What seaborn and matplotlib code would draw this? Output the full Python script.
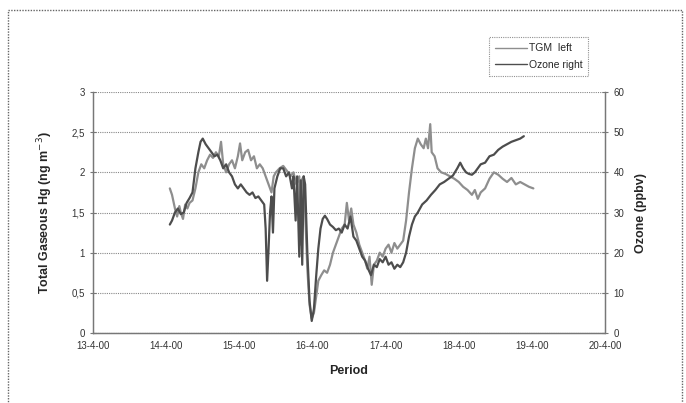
import numpy as np
import pandas as pd
import matplotlib
matplotlib.use("Agg")
import matplotlib.pyplot as plt
from matplotlib.lines import Line2D
from matplotlib.patches import Rectangle
import seaborn as sns

# Day of April 2000 (fractional) and TGM (ng m-3), left axis
tgm_day = [14.05, 14.08, 14.12, 14.15, 14.18, 14.20, 14.23, 14.26, 14.29, 14.32,
           14.36, 14.40, 14.44, 14.48, 14.52, 14.56, 14.60, 14.64, 14.68, 14.72,
           14.75, 14.78, 14.82, 14.86, 14.90, 14.94, 14.98, 15.01, 15.04, 15.08,
           15.12, 15.16, 15.20, 15.24, 15.28, 15.32, 15.36, 15.40, 15.44, 15.47,
           15.50, 15.55, 15.60, 15.65, 15.70, 15.74, 15.78, 15.82, 15.84, 15.85,
           15.88, 15.90, 15.93, 15.96, 15.99, 16.02, 16.05, 16.08, 16.12, 16.16,
           16.20, 16.24, 16.28, 16.32, 16.36, 16.40, 16.44, 16.47, 16.50, 16.53,
           16.56, 16.60, 16.64, 16.68, 16.72, 16.75, 16.78, 16.81, 16.84, 16.88,
           16.92, 16.96, 17.00, 17.04, 17.08, 17.12, 17.16, 17.20, 17.24, 17.28,
           17.32, 17.36, 17.40, 17.44, 17.48, 17.52, 17.55, 17.58, 17.61, 17.63,
           17.67, 17.71, 17.76, 17.82, 17.88, 17.94, 18.00, 18.06, 18.12, 18.18,
           18.22, 18.26, 18.30, 18.36, 18.42, 18.48, 18.54, 18.60, 18.66, 18.72,
           18.78, 18.84, 18.90, 18.96, 19.02]
tgm_val = [1.80, 1.72, 1.55, 1.45, 1.58, 1.50, 1.42, 1.60, 1.55, 1.62,
           1.65, 1.80, 2.00, 2.10, 2.05, 2.15, 2.22, 2.18, 2.25, 2.20,
           2.38, 2.10, 2.00, 2.10, 2.15, 2.05, 2.20, 2.36, 2.15, 2.25,
           2.28, 2.15, 2.20, 2.05, 2.10, 2.05, 1.95, 1.85, 1.75, 1.95,
           2.00, 2.05, 2.08, 2.02, 1.95, 2.00, 1.85, 1.95, 1.10, 1.90,
           1.95, 1.50, 0.80, 0.35, 0.18, 0.25, 0.45, 0.65, 0.72, 0.78,
           0.75, 0.85, 1.00, 1.10, 1.20, 1.30, 1.35, 1.62, 1.40, 1.55,
           1.35, 1.25, 1.10, 1.00, 0.90, 0.80, 0.95, 0.60, 0.85, 0.90,
           1.00, 0.95, 1.05, 1.10, 1.00, 1.12, 1.05, 1.10, 1.15, 1.40,
           1.75, 2.05, 2.30, 2.42, 2.35, 2.30, 2.42, 2.30, 2.60, 2.25,
           2.20, 2.05, 2.00, 1.98, 1.95, 1.92, 1.88, 1.82, 1.78, 1.72,
           1.78, 1.67, 1.75, 1.80, 1.92, 2.00, 1.97, 1.92, 1.88, 1.93,
           1.85, 1.88, 1.85, 1.82, 1.80]

# Ozone (ppbv), right axis
ozone_day = [14.05, 14.08, 14.12, 14.16, 14.20, 14.24, 14.28, 14.32, 14.36, 14.40,
             14.44, 14.47, 14.50, 14.54, 14.58, 14.62, 14.66, 14.70, 14.74, 14.78,
             14.82, 14.86, 14.90, 14.94, 14.98, 15.02, 15.06, 15.10, 15.14, 15.18,
             15.22, 15.26, 15.30, 15.34, 15.36, 15.38, 15.40, 15.42, 15.44, 15.46,
             15.48, 15.52, 15.56, 15.60, 15.64, 15.68, 15.72, 15.74, 15.77, 15.79,
             15.82, 15.84, 15.86, 15.88, 15.90, 15.93, 15.96, 15.99, 16.02, 16.05,
             16.08, 16.11, 16.14, 16.17, 16.20, 16.24, 16.28, 16.32, 16.36, 16.40,
             16.44, 16.48, 16.52, 16.56, 16.60, 16.64, 16.68, 16.72, 16.76, 16.80,
             16.84, 16.88, 16.92, 16.96, 17.00, 17.04, 17.08, 17.12, 17.16, 17.20,
             17.24, 17.28, 17.32, 17.36, 17.40, 17.44, 17.50, 17.56, 17.62, 17.68,
             17.74, 17.80, 17.86, 17.92, 17.98, 18.02, 18.06, 18.10, 18.14, 18.18,
             18.22, 18.26, 18.30, 18.36, 18.42, 18.48, 18.54, 18.60, 18.66, 18.72,
             18.78, 18.84, 18.89]
ozone_val = [27, 28, 30, 31, 29.6, 30, 32.4, 33.6, 35, 41,
             45, 47.6, 48.4, 47, 46, 45, 44, 44.4, 43, 41,
             42, 40, 39, 37, 36, 37, 36, 35, 34.4, 35,
             33.6, 34, 33, 32, 26, 13, 21, 30, 34, 25,
             36, 39, 41, 41, 39, 40, 36, 39, 28, 39,
             19, 38, 17, 39, 37, 20, 8, 3, 6, 14,
             21, 26, 28.4, 29.2, 28.4, 27, 26.4, 25.6, 26, 25,
             27, 26, 29, 24, 23, 21, 19, 18, 16, 14.4,
             17, 16.4, 18.4, 17.6, 19, 17, 17.6, 16, 17, 16.4,
             17.6, 20, 24, 27, 29, 30, 32, 33, 34.4, 35.6,
             37, 37.6, 38.4, 39.2, 41, 42.4, 41, 40, 39.6, 39.4,
             40, 41, 42, 42.4, 44, 44.4, 45.6, 46.4, 47, 47.6,
             48, 48.4, 49]

day_ticks = [13, 14, 15, 16, 17, 18, 19, 20]
day_labels = ["13-4-00", "14-4-00", "15-4-00", "16-4-00", "17-4-00",
              "18-4-00", "19-4-00", "20-4-00"]
left_ticks = [0, 0.5, 1, 1.5, 2, 2.5, 3]
left_labels = ["0", "0,5", "1", "1,5", "2", "2,5", "3"]
right_ticks = [0, 10, 20, 30, 40, 50, 60]

tgm_df = pd.DataFrame({"day": tgm_day, "tgm": tgm_val})
ozone_df = pd.DataFrame({"day": ozone_day, "ozone": ozone_val})

sns.set_style("white")
plt.rcParams["font.family"] = ["Liberation Sans", "DejaVu Sans"]

fig = plt.figure(figsize=(6.86, 4.03), dpi=100)
ax = fig.add_axes([0.1356, 0.1737, 0.7464, 0.598])
ax2 = ax.twinx()

tgm_color = "#8e8e8e"
ozone_color = "#4d4d4d"

sns.lineplot(data=tgm_df, x="day", y="tgm", ax=ax, color=tgm_color, lw=1.6, sort=False)
sns.lineplot(data=ozone_df, x="day", y="ozone", ax=ax2, color=ozone_color, lw=1.6, sort=False)

ax.set_xlim(13, 20)
ax.set_ylim(0, 3)
ax2.set_ylim(0, 60)
ax.set_xticks(day_ticks)
ax.set_xticklabels(day_labels)
ax.set_yticks(left_ticks)
ax.set_yticklabels(left_labels)
ax2.set_yticks(right_ticks)

ax.yaxis.grid(True, color="#888888", ls=(0, (1, 1)), lw=0.8)
ax.xaxis.grid(False)
ax2.grid(False)

for a in (ax, ax2):
    for s in a.spines.values():
        s.set_color("#777777")
        s.set_linestyle((0, (1, 1)))
        s.set_linewidth(0.9)
    a.spines["top"].set_visible(False)
    a.tick_params(axis="both", which="both", direction="inout", length=4, width=0.8,
                  color="#777777", labelsize=7, labelcolor="#333333", pad=4)

ax.set_xlabel("Period", fontsize=9, fontweight="bold", labelpad=10)
ax.set_ylabel("Total Gaseous Hg (ng m$^{-3}$)", fontsize=9, fontweight="bold", labelpad=12)
ax2.set_ylabel("Ozone (ppbv)", fontsize=9, fontweight="bold", labelpad=8)

handles = [Line2D([], [], color=tgm_color, lw=1.0),
           Line2D([], [], color=ozone_color, lw=1.0)]
leg = fig.legend(handles, ["TGM  left", "Ozone right"], loc="upper left",
                 bbox_to_anchor=(489 / 686, 1 - 37 / 403), fontsize=7.5,
                 frameon=True, fancybox=False, handlelength=3.0, handletextpad=0.2,
                 borderpad=0.6, labelspacing=0.6, borderaxespad=0)
leg.get_frame().set_edgecolor("#777777")
leg.get_frame().set_linestyle((0, (1, 1)))
leg.get_frame().set_linewidth(0.8)

# dotted frame round the whole chart
fig.patches.append(Rectangle((8 / 686, -0.05), 674 / 686, 1.05 - 10 / 403,
                             transform=fig.transFigure, fill=False,
                             edgecolor="#666666", ls=(0, (1, 1)), lw=1.0))

fig.savefig("out.png", dpi=100)
